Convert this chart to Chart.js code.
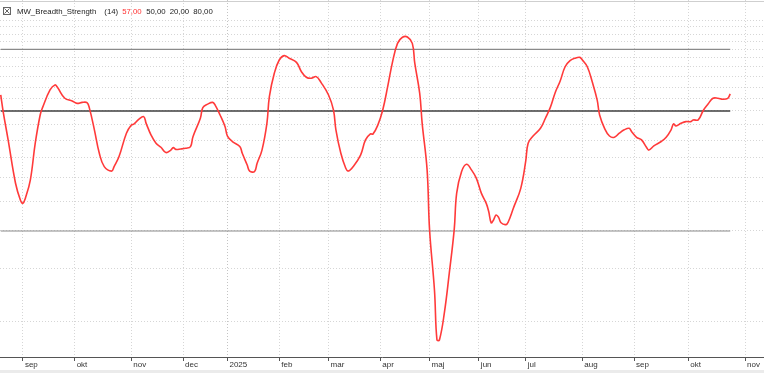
<!DOCTYPE html>
<html><head><meta charset="utf-8">
<script src="https://cdn.jsdelivr.net/npm/chart.js@4/dist/chart.umd.min.js"></script>
<style>html,body{margin:0;padding:0;background:#fff;overflow:hidden}#wrap{width:764px;height:373px;position:relative}</style>
</head><body><div id="wrap"><canvas id="c" width="764" height="373"></canvas></div>
<script>
const indicatorName = 'MW_Breadth_Strength';
const period = 14;
const levelValues = [50, 20, 80];
const monthLabels = ['sep','okt','nov','dec','2025','feb','mar','apr','maj','jun','jul','aug','sep','okt','nov'];
const monthStart = [0,21,44,65,83,104,124,145,165,185,204,227,248,270,293];
const yGridValues = [10,15,20,25,30,35,40,45,50,55,60,65,70,75,80,85,90,95,100];

// trading-day index (0 = first trading day of Sep 2024)
const dayIdx = [-9,-8,-6,-3,-1,0,1,3,5,7,8,11,13,14,17,20,22,24,26,27,29,31,33,36,37,39,42,44,45,47,49,50,52,54,56,58,60,61,62,64,66,68,69,72,73,75,77,78,80,82,83,85,88,89,91,92,94,95,97,99,100,102,104,106,108,111,113,115,117,119,121,124,126,127,129,131,132,134,137,139,141,142,144,146,148,150,152,154,156,158,159,161,162,164,165,167,168,169,171,173,175,176,178,180,182,184,186,188,189,190,191,192,193,194,196,197,199,202,204,205,207,210,212,214,216,218,220,222,224,226,227,229,231,233,234,236,238,240,242,244,246,247,249,251,253,254,256,259,261,263,264,265,267,269,271,272,274,276,278,280,282,284,286,287];
const strength = [56.5,49.7,40.1,28.8,25.3,24.7,25.7,29.5,39.1,48.5,51.4,58.7,61.0,59.9,55.1,54.0,53.0,53.4,53.3,51.0,43.3,36.2,32.7,31.6,32.7,35.3,42.2,44.9,45.2,46.9,47.9,45.5,41.6,39.1,37.9,36.4,37.1,37.8,37.3,37.4,37.6,38.1,41.1,47.3,51.3,52.7,53.4,52.3,48.5,44.4,41.3,39.6,38.1,36.2,33.1,31.6,31.5,33.5,37.1,45.5,55.8,66.7,73.8,76.3,74.8,72.5,67.5,64.7,64.2,65.0,62.1,56.5,50.4,43.3,36.2,32.3,31.6,32.7,35.7,40.1,42.0,41.9,44.9,50.4,60.2,72.9,83.8,87.8,88.0,83.8,72.0,57.2,45.5,31.9,20.2,12.7,8.7,8.7,10.7,14.5,20.2,26.7,31.5,33.3,31.9,29.9,26.7,24.7,23.2,21.3,21.8,22.6,22.2,21.3,21.0,21.5,23.8,27.7,34.0,39.1,41.3,43.8,47.3,51.4,57.6,62.9,70.1,73.4,74.8,75.3,73.8,70.1,62.5,54.4,48.5,43.8,41.3,40.9,42.2,43.3,43.8,42.7,40.9,40.1,37.9,37.1,38.3,39.6,40.9,43.3,45.3,44.6,45.5,46.1,46.1,46.7,46.7,50.1,52.7,55.1,55.1,54.7,55.1,57.0];

const fmt = v => v.toFixed(2).replace('.', ',');
const first = dayIdx[0], last = dayIdx[dayIdx.length - 1];

const levelDatasets = levelValues.map(v => ({
  data: [{x: first, y: v}, {x: last, y: v}],
  borderColor: v === 50 ? '#3e3e3e' : '#8a8a8a',
  borderWidth: v === 50 ? 1.6 : 1.2,
  pointRadius: 0, order: 2
}));

const decor = {
  id: 'decor',
  beforeDraw(chart) {
    const ctx = chart.ctx;
    ctx.save();
    ctx.fillStyle = '#fff';
    ctx.fillRect(0, 0, chart.width, chart.height);
    ctx.fillStyle = '#ebebeb';
    ctx.fillRect(0, 370, chart.width, chart.height - 370);
    ctx.restore();
  },
  afterDraw(chart) {
    const ctx = chart.ctx;
    ctx.save();
    ctx.strokeStyle = '#cfcfcf';
    ctx.lineWidth = 1;
    ctx.beginPath(); ctx.moveTo(0, 1.5); ctx.lineTo(chart.width, 1.5); ctx.stroke();
    // header
    ctx.strokeStyle = '#666';
    ctx.strokeRect(3.5, 7.5, 7, 7);
    ctx.beginPath();
    ctx.moveTo(4.5, 8.5); ctx.lineTo(9.5, 13.5);
    ctx.moveTo(9.5, 8.5); ctx.lineTo(4.5, 13.5);
    ctx.stroke();
    ctx.font = '7.8px "Liberation Sans", Arial, sans-serif';
    ctx.textBaseline = 'middle';
    const y = 11.5;
    let x = 17;
    ctx.fillStyle = '#222';
    ctx.fillText(indicatorName, x, y);
    x += ctx.measureText(indicatorName).width + 8;
    const p = '(' + period + ')';
    ctx.fillText(p, x, y);
    x += ctx.measureText(p).width + 4;
    ctx.fillStyle = '#ff3030';
    const cur = fmt(strength[strength.length - 1]);
    ctx.fillText(cur, x, y);
    x += ctx.measureText(cur).width + 4.5;
    ctx.fillStyle = '#222';
    levelValues.forEach(v => {
      const t = fmt(v);
      ctx.fillText(t, x, y);
      x += ctx.measureText(t).width + 4;
    });
    ctx.restore();
  }
};

new Chart(document.getElementById('c'), {
  type: 'line',
  data: {
    datasets: [
      {
        data: dayIdx.map((d, i) => ({x: d, y: strength[i]})),
        borderColor: '#ff3a3a',
        borderWidth: 1.6,
        pointRadius: 0,
        tension: 0.4,
        order: 0
      },
      ...levelDatasets
    ]
  },
  options: {
    responsive: false,
    animation: false,
    layout: {padding: 0},
    plugins: {legend: {display: false}, tooltip: {enabled: false}},
    scales: {
      x: {
        type: 'linear', position: 'bottom',
        min: -9.3, max: 300.7,
        afterBuildTicks: s => { s.ticks = monthStart.map(v => ({value: v})); },
        afterFit: s => { s.height = 16; },
        ticks: {
          autoSkip: false, maxRotation: 0, minRotation: 0,
          align: 'start', labelOffset: 2, padding: 0,
          color: '#333',
          font: {family: '"Liberation Sans", Arial, sans-serif', size: 8, lineHeight: 1},
          callback: (v, i) => monthLabels[i]
        },
        grid: {
          color: ctx => (ctx.tick && ctx.tick.value === 83) ? '#c4c4c4' : '#d6d6d6',
          lineWidth: 1, tickLength: 4, tickColor: '#555', drawTicks: true
        },
        border: {display: true, color: '#555', width: 1, dash: [1, 2]}
      },
      y: {
        type: 'logarithmic', position: 'right',
        min: 7.64, max: 116.7,
        afterBuildTicks: s => { s.ticks = yGridValues.map(v => ({value: v})); },
        afterFit: s => { s.width = 0; },
        ticks: {display: false},
        grid: {color: '#d6d6d6', lineWidth: 1, drawTicks: false},
        border: {display: false, dash: [1, 2]}
      }
    }
  },
  plugins: [decor]
});
</script>
</body></html>
